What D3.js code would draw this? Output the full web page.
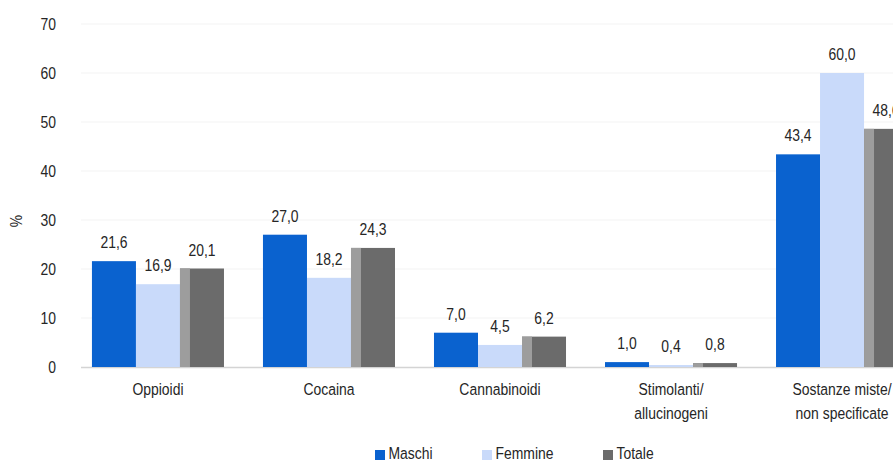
<!DOCTYPE html>
<html>
<head>
<meta charset="utf-8">
<script src="https://cdn.jsdelivr.net/npm/d3@7"></script>
<style>
  html, body { margin: 0; padding: 0; background: #fff; }
  svg { display: block; }
  text { font-family: "Liberation Sans", Arial, sans-serif; fill: #262626; }
</style>
</head>
<body>
<svg id="chart" width="893" height="462"></svg>
<script>
const categories = [["Oppioidi"], ["Cocaina"], ["Cannabinoidi"], ["Stimolanti/", "allucinogeni"], ["Sostanze miste/", "non specificate"]];
const seriesNames = ["Maschi", "Femmine", "Totale"];
const maschi  = [21.6, 27.0, 7.0, 1.0, 43.4];
const femmine = [16.9, 18.2, 4.5, 0.4, 60.0];
const totale  = [20.1, 24.3, 6.2, 0.8, 48.6];
const yTicks = [0, 10, 20, 30, 40, 50, 60, 70];
const yLabel = "%";
const colors = ["#0a62cf", "#c9dafa", "#6b6b6b"];

const series = [maschi, femmine, totale];
const catKeys = categories.map(c => c.join(" "));
const svg = d3.select("#chart");
const NARROW = 0.82;
const FS = 17;

// narrow text helper (emulates a condensed face)
function ntext(parent, xPos, yPos, str, anchor, rot) {
  const tr = `translate(${xPos},${yPos})` + (rot ? ` rotate(${rot})` : "") + ` scale(${NARROW},1)`;
  return parent.append("text").attr("transform", tr)
    .attr("text-anchor", anchor || "middle").attr("font-size", FS).text(str);
}

const x = d3.scaleBand().domain(catKeys).range([81, 919]).paddingInner(0.228).paddingOuter(0.064);
const xs = d3.scaleBand().domain(seriesNames).range([0, x.bandwidth()]).padding(0);
const y = d3.scaleLinear().domain([0, 70]).range([367, 24]);

// faint gridlines
svg.append("g").selectAll("line").data(yTicks.slice(1)).join("line")
  .attr("x1", 81).attr("x2", 893)
  .attr("y1", d => y(d)).attr("y2", d => y(d))
  .attr("stroke", "#f3f3f3").attr("stroke-width", 1);

// y tick labels
const gy = svg.append("g");
yTicks.forEach(t => ntext(gy, 56, y(t) + 6, d3.format("d")(t), "end"));

ntext(svg, 22, 221, yLabel, "middle", -90);

// baseline
svg.append("line").attr("x1", 81).attr("x2", 893).attr("y1", y(0) + 0.5).attr("y2", y(0) + 0.5)
  .attr("stroke", "#d4d4d4").attr("stroke-width", 1.5);

const fmt = v => d3.format(".1f")(v).replace(".", ",");

seriesNames.forEach((s, si) => {
  const g = svg.append("g");
  const data = series[si].map((v, i) => ({ cat: catKeys[i], v }));
  g.selectAll("rect.bar").data(data).join("rect").attr("class", "bar")
    .attr("x", d => x(d.cat) + xs(s))
    .attr("width", xs.bandwidth())
    .attr("y", d => y(d.v))
    .attr("height", d => y(0) - y(d.v))
    .attr("fill", colors[si]);
  if (si === 2) {
    g.selectAll("rect.strip").data(data).join("rect").attr("class", "strip")
      .attr("x", d => x(d.cat) + xs(s))
      .attr("width", 10)
      .attr("y", d => y(d.v))
      .attr("height", d => y(0) - y(d.v))
      .attr("fill", "#9d9d9d");
  }
  data.forEach(d => ntext(g, x(d.cat) + xs(s) + xs.bandwidth() / 2, y(d.v) - 13, fmt(d.v), "middle"));
});

// category labels
const xl = svg.append("g");
categories.forEach((lines, i) => {
  const cx = x(catKeys[i]) + x.bandwidth() / 2;
  lines.forEach((ln, j) => ntext(xl, cx, 395 + j * 24, ln, "middle"));
});

// legend
const legendX = [375, 482, 603];
const lg = svg.append("g");
seriesNames.forEach((s, i) => {
  lg.append("rect").attr("x", legendX[i]).attr("y", 450).attr("width", 10).attr("height", 10).attr("fill", colors[i]);
  ntext(lg, legendX[i] + 13.5, 458.5, s, "start");
});
</script>
</body>
</html>
